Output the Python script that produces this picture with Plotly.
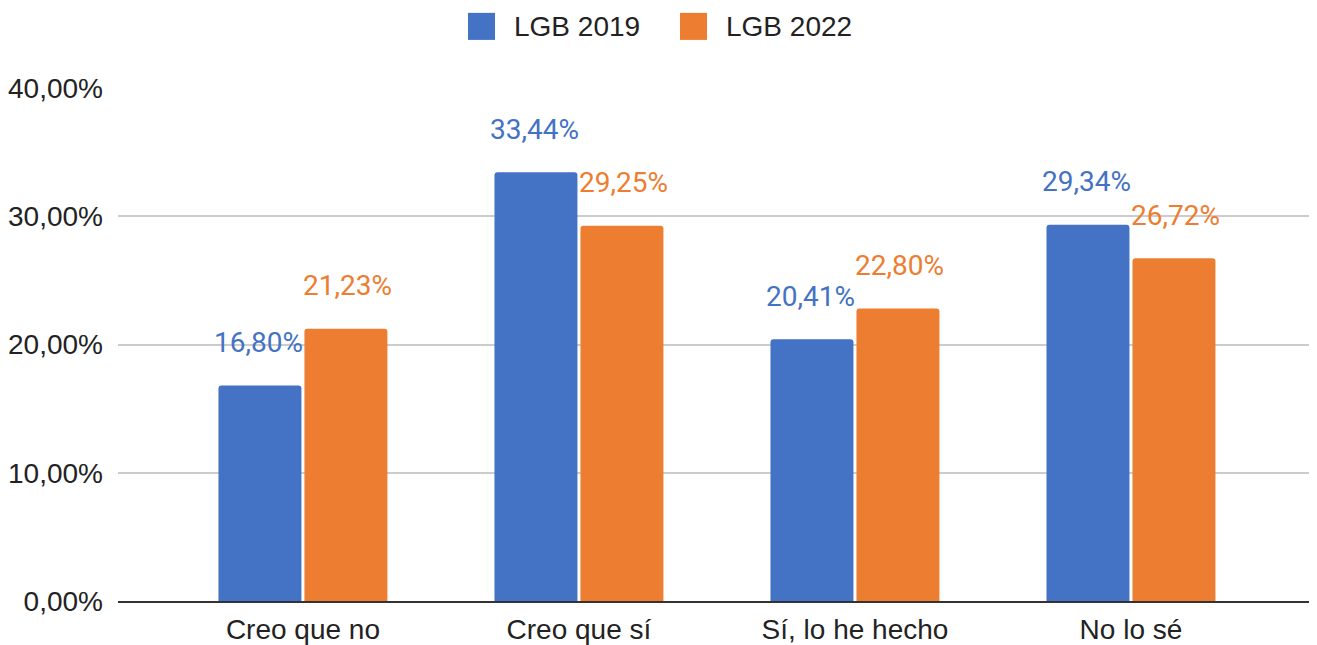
import plotly.graph_objects as go

categories = ["Creo que no", "Creo que sí", "Sí, lo he hecho", "No lo sé"]
series_names = ["LGB 2019", "LGB 2022"]
lgb_2019 = [16.80, 33.44, 20.41, 29.34]
lgb_2022 = [21.23, 29.25, 22.80, 26.72]
y_ticks = [0, 10, 20, 30, 40]

colors = ["#4472C4", "#ED7D31"]
series_values = [lgb_2019, lgb_2022]


def fmt(v):
    return f"{v:.2f}".replace(".", ",") + "%"


fig = go.Figure()
x_idx = list(range(len(categories)))
for name, vals, col in zip(series_names, series_values, colors):
    fig.add_trace(go.Bar(x=x_idx, y=vals, name=name, marker_color=col,
                         marker_line_width=0, showlegend=False))

offsets = [-0.161, 0.161]
for vals, col, off in zip(series_values, colors, offsets):
    for i, v in enumerate(vals):
        fig.add_annotation(x=i + off, y=v, text=fmt(v), showarrow=False,
                           yanchor="middle", yshift=43,
                           font=dict(family="Roboto", size=28, color=col))

# legend drawn manually (large square swatches); coords in screen px
PL, PW, PB, PH = 118, 1199, 600, 512
leg_items = [(468, 512), (680, 724)]
for (sx, tx), name, col in zip(leg_items, series_names, colors):
    fig.add_shape(type="rect", xref="paper", yref="paper",
                  x0=(sx - PL) / PW, x1=(sx + 27 - PL) / PW,
                  y0=(PB - 40) / PH, y1=(PB - 13) / PH,
                  fillcolor=col, line_width=0)
    fig.add_annotation(xref="paper", yref="paper",
                       x=(tx - PL) / PW, y=(PB - 27) / PH,
                       xanchor="left", yanchor="middle", showarrow=False,
                       text=name,
                       font=dict(family="Liberation Sans", size=28, color="#222222"))

fig.update_layout(
    width=1309, height=637,
    margin=dict(l=110, r=0, t=80, b=37),
    paper_bgcolor="white", plot_bgcolor="white",
    bargap=0.377, bargroupgap=0.035, barmode="group",
    barcornerradius=3,
    font=dict(family="Liberation Sans", size=28, color="#222222"),
    xaxis=dict(range=[-0.670, 3.674], tickvals=x_idx, ticktext=categories,
               showgrid=False, showline=True, linecolor="#333333", linewidth=2,
               ticks="", zeroline=False, fixedrange=True, ticklabelstandoff=2,
               tickfont=dict(family="Liberation Sans", size=28, color="#222222")),
    yaxis=dict(range=[0, 40], tickvals=y_ticks, ticktext=[fmt(t) for t in y_ticks],
               showgrid=True, gridcolor="#CCCCCC", gridwidth=2, zeroline=False,
               ticks="", ticklabelstandoff=14,
               tickfont=dict(family="Liberation Sans", size=28, color="#222222")),
)

fig.write_html("out.html")
